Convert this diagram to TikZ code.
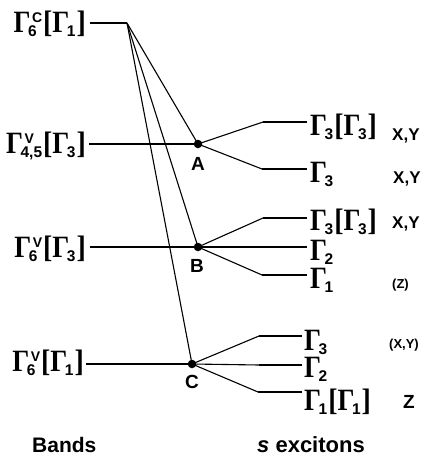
\documentclass[tikz,border=0pt]{standalone}
\usepackage{fontspec}
\usepackage{graphicx}
\setmainfont{Liberation Serif}
\newfontfamily\arial{Liberation Sans}
\newcommand\gf{\fontsize{31}{31}\selectfont\rmfamily\bfseries}
\newcommand\subf{\fontsize{15.5}{15}\selectfont\arial\bfseries}
\newcommand\supf{\fontsize{14}{14}\selectfont\arial\bfseries}
\newlength\gsw \newlength\gpw
\newcommand\Gm[2]{\scalebox{0.86}[1]{\gf\char"0393}%
  \settowidth\gsw{\subf #1}\settowidth\gpw{\supf #2}%
  \ifdim\gpw>0pt\addtolength\gpw{4pt}\fi
  \ifdim\gpw>\gsw\setlength\gsw{\gpw}\fi
  \kern-2.5pt\rlap{\raisebox{-4pt}{\subf #1}}\rlap{\kern4pt\raisebox{10pt}{\supf #2}}\kern\gsw\kern1pt}
\newcommand\Lb{\scalebox{0.9}[1]{\gf[}}
\newcommand\Rb{\scalebox{0.9}[1]{\gf]}}
\tikzset{
  thn/.style={line width=1.1pt},
  thk/.style={line width=2.6pt},
  dot/.style={circle,fill=black,inner sep=0pt,minimum size=8.5pt},
  lab/.style={inner sep=0pt},
  small/.style={inner sep=0pt,font=\fontsize{17}{17}\selectfont\arial\bfseries},
  tiny/.style={inner sep=0pt,font=\fontsize{13}{13}\selectfont\arial\bfseries},
  big/.style={inner sep=0pt,font=\fontsize{19}{19}\selectfont\arial\bfseries}
}
\begin{document}
\begin{tikzpicture}[x=1pt,y=-1pt]
\useasboundingbox (0,0) rectangle (427,464);
% band levels (left)
\coordinate (T0) at (90,23);
\coordinate (T) at (127,23);
\draw[thk] (T0) -- (T);
\node[dot] (A) at (198,144) {};
\node[dot] (B) at (198,247) {};
\node[dot] (C) at (192,364) {};
\draw[thn] (T) -- (A.center);
\draw[thn] (T) -- (B.center);
\draw[thn] (T) -- (C.center);
\coordinate (a0) at (89,144); \coordinate (a1) at (127,144);
\coordinate (b0) at (90,247); \coordinate (b1) at (127,247);
\coordinate (c0) at (86,364); \coordinate (c1) at (124,364);
\draw[thk] (a0) -- (a1); \draw[thn] (a1) -- (A.center);
\draw[thk] (b0) -- (b1); \draw[thn] (b1) -- (B.center);
\draw[thk] (c0) -- (c1); \draw[thn] (c1) -- (C.center);
\node[lab,anchor=base east] (lT) at (86,32) {\Gm{6}{C}\Lb\Gm{1}{}\Rb};
\node[lab,anchor=base east] (lA) at (86,153) {\Gm{4,5}{V}\Lb\Gm{3}{}\Rb};
\node[lab,anchor=base east] (lB) at (86,257) {\Gm{6}{V}\Lb\Gm{3}{}\Rb};
\node[lab,anchor=base east] (lC) at (84,371) {\Gm{6}{V}\Lb\Gm{1}{}\Rb};
\node[big,anchor=base] (tA) at (198,170) {A};
\node[big,anchor=base] (tB) at (197,272) {B};
\node[big,anchor=base] (tC) at (192,388) {C};
% exciton levels (right)
\coordinate (au1) at (263,122); \coordinate (au2) at (307,122);
\coordinate (al1) at (262,169); \coordinate (al2) at (307,169);
\coordinate (bu1) at (263,218); \coordinate (bu2) at (307,218);
\coordinate (bm1) at (263,247); \coordinate (bm2) at (307,247);
\coordinate (bl1) at (262,275); \coordinate (bl2) at (307,275);
\coordinate (cu1) at (259,336); \coordinate (cu2) at (302,336);
\coordinate (cm1) at (259,365); \coordinate (cm2) at (302,365);
\coordinate (cl1) at (258,392); \coordinate (cl2) at (302,392);
\foreach \p/\q in {A/au,A/al,B/bu,B/bm,B/bl,C/cu,C/cm,C/cl}{
  \draw[thn] (\p.center) -- (\q1);
  \draw[thk] (\q1) -- (\q2);
}
\node[lab,anchor=base west] (rAu) at (310,135) {\Gm{3}{}\Lb\Gm{3}{}\Rb};
\node[lab,anchor=base west] (rAl) at (310,182) {\Gm{3}{}};
\node[lab,anchor=base west] (rBu) at (310,230) {\Gm{3}{}\Lb\Gm{3}{}\Rb};
\node[lab,anchor=base west] (rBm) at (310,260) {\Gm{2}{}};
\node[lab,anchor=base west] (rBl) at (310,288) {\Gm{1}{}};
\node[lab,anchor=base west] (rCu) at (304,350) {\Gm{3}{}};
\node[lab,anchor=base west] (rCm) at (304,377) {\Gm{2}{}};
\node[lab,anchor=base west] (rCl) at (304,410) {\Gm{1}{}\Lb\Gm{1}{}\Rb};
\node[small,anchor=base west] (pAu) at (392,140) {X,Y};
\node[small,anchor=base west] (pAl) at (393,183) {X,Y};
\node[small,anchor=base west] (pBu) at (392,228) {X,Y};
\node[tiny,anchor=base west] (pBl) at (392,288) {(Z)};
\node[tiny,anchor=base west] (pCu) at (389,348) {(X,Y)};
\node[big,anchor=base west] (pCl) at (403,408) {Z};
\node[inner sep=0pt,anchor=base west,font=\fontsize{21}{21}\selectfont\arial\bfseries] (bands) at (32,452) {Bands};
\node[inner sep=0pt,anchor=base west,font=\fontsize{22}{22}\selectfont\arial\bfseries] (exc) at (257,452) {{\itshape s} excitons};
\end{tikzpicture}
\end{document}
